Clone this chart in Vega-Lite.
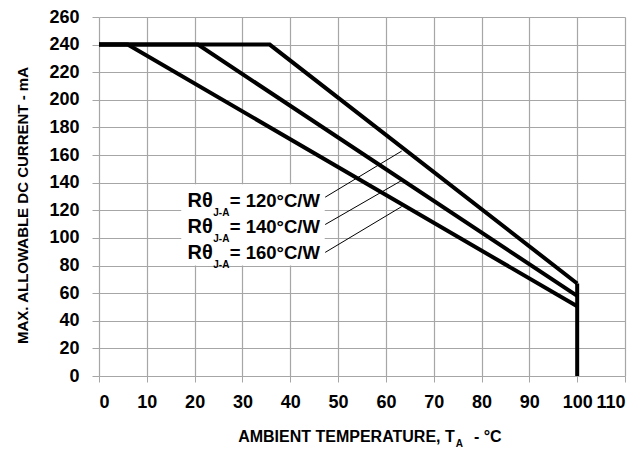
{
  "$schema": "https://vega.github.io/schema/vega-lite/v6.json",
  "width": 526,
  "height": 359,
  "autosize": {"type": "none"},
  "padding": {"left": 99, "top": 17, "right": 16, "bottom": 73},
  "background": "white",
  "config": {
    "view": {"stroke": null},
    "font": "Liberation Sans",
    "text": {"font": "Liberation Sans", "fontWeight": "bold", "color": "black"}
  },
  "datasets": {
    "curves": [
      {"series": "120", "t": 0, "i": 240},
      {"series": "120", "t": 35.7, "i": 240},
      {"series": "120", "t": 100, "i": 67},
      {"series": "140", "t": 0, "i": 240},
      {"series": "140", "t": 20.7, "i": 240},
      {"series": "140", "t": 100, "i": 58},
      {"series": "160", "t": 0, "i": 240},
      {"series": "160", "t": 6, "i": 240},
      {"series": "160", "t": 100, "i": 50.5},
      {"series": "limit", "t": 100, "i": 67},
      {"series": "limit", "t": 100, "i": 0}
    ],
    "leaders": [
      {"t": 47.3, "i": 129.5, "t2": 63.3, "i2": 162.9},
      {"t": 47.3, "i": 109.7, "t2": 63.3, "i2": 141.6},
      {"t": 47.3, "i": 89.5, "t2": 63.3, "i2": 122.7}
    ],
    "box": [{"t": 17.2, "t2": 47.2, "i": 80, "i2": 138.8}],
    "labels": [
      {"t": 23.8, "ts": 23.9, "te": 46.2, "i": 122.1, "is": 115.8, "value": "= 120°C/W"},
      {"t": 23.8, "ts": 23.9, "te": 46.2, "i": 103.3, "is": 97.0, "value": "= 140°C/W"},
      {"t": 23.8, "ts": 23.9, "te": 46.2, "i": 84.4, "is": 78.1, "value": "= 160°C/W"}
    ],
    "xtitle": [
      {"t": 74.4, "ts": 74.6, "te": 78.4, "i": -47.5, "is": -51.3}
    ]
  },
  "layer": [
    {
      "data": {"name": "curves"},
      "mark": {"type": "line", "color": "black", "strokeWidth": 4, "strokeJoin": "miter"},
      "encoding": {
        "x": {
          "field": "t", "type": "quantitative",
          "scale": {"domain": [0, 110], "nice": false},
          "axis": {
            "values": [0, 10, 20, 30, 40, 50, 60, 70, 80, 90, 100, 110],
            "tickCount": 20,
            "title": null, "domain": false,
            "grid": true, "gridColor": "#a6a6a6", "gridWidth": 1.2,
            "tickColor": "#a6a6a6", "tickSize": 6,
            "labelFont": "Liberation Sans",
            "labelFontSize": 18, "labelFontWeight": "bold", "labelColor": "black",
            "labelPadding": 11, "labelOverlap": false
          }
        },
        "y": {
          "field": "i", "type": "quantitative",
          "scale": {"domain": [0, 260], "nice": false},
          "axis": {
            "values": [0, 20, 40, 60, 80, 100, 120, 140, 160, 180, 200, 220, 240, 260],
            "tickCount": 20,
            "title": "MAX. ALLOWABLE DC CURRENT - mA", "domain": false,
            "grid": true, "gridColor": "#a6a6a6", "gridWidth": 1.2,
            "tickColor": "#a6a6a6", "tickSize": 7,
            "labelFont": "Liberation Sans",
            "labelFontSize": 18, "labelFontWeight": "bold", "labelColor": "black",
            "labelPadding": 13, "labelOverlap": false,
            "titleFont": "Liberation Sans",
            "titleFontSize": 15, "titleFontWeight": "bold", "titleColor": "black",
            "titleAngle": -90, "titleBaseline": "alphabetic", "titleAlign": "center",
            "titleX": -72, "titleY": 188
          }
        },
        "detail": {"field": "series"}
      }
    },
    {
      "data": {"name": "box"},
      "mark": {"type": "rect", "color": "white"},
      "encoding": {
        "x": {"field": "t", "type": "quantitative"},
        "x2": {"field": "t2"},
        "y": {"field": "i", "type": "quantitative"},
        "y2": {"field": "i2"}
      }
    },
    {
      "data": {"name": "leaders"},
      "mark": {"type": "rule", "color": "black", "strokeWidth": 1},
      "encoding": {
        "x": {"field": "t", "type": "quantitative"},
        "x2": {"field": "t2"},
        "y": {"field": "i", "type": "quantitative"},
        "y2": {"field": "i2"}
      }
    },
    {
      "data": {"name": "labels"},
      "mark": {"type": "text", "align": "right", "baseline": "alphabetic", "fontSize": 20},
      "encoding": {
        "x": {"field": "t", "type": "quantitative"},
        "y": {"field": "i", "type": "quantitative"},
        "text": {"value": "Rθ"}
      }
    },
    {
      "data": {"name": "labels"},
      "mark": {"type": "text", "align": "left", "baseline": "alphabetic", "fontSize": 10},
      "encoding": {
        "x": {"field": "ts", "type": "quantitative"},
        "y": {"field": "is", "type": "quantitative"},
        "text": {"value": "J-A"}
      }
    },
    {
      "data": {"name": "labels"},
      "mark": {"type": "text", "align": "right", "baseline": "alphabetic", "fontSize": 18.5},
      "encoding": {
        "x": {"field": "te", "type": "quantitative"},
        "y": {"field": "i", "type": "quantitative"},
        "text": {"field": "value"}
      }
    },
    {
      "data": {"name": "xtitle"},
      "mark": {"type": "text", "align": "right", "baseline": "alphabetic", "fontSize": 16, "clip": false},
      "encoding": {
        "x": {"field": "t", "type": "quantitative"},
        "y": {"field": "i", "type": "quantitative"},
        "text": {"value": "AMBIENT TEMPERATURE, T"}
      }
    },
    {
      "data": {"name": "xtitle"},
      "mark": {"type": "text", "align": "left", "baseline": "alphabetic", "fontSize": 10, "clip": false},
      "encoding": {
        "x": {"field": "ts", "type": "quantitative"},
        "y": {"field": "is", "type": "quantitative"},
        "text": {"value": "A"}
      }
    },
    {
      "data": {"name": "xtitle"},
      "mark": {"type": "text", "align": "left", "baseline": "alphabetic", "fontSize": 16, "clip": false},
      "encoding": {
        "x": {"field": "te", "type": "quantitative"},
        "y": {"field": "i", "type": "quantitative"},
        "text": {"value": "- °C"}
      }
    }
  ]
}
